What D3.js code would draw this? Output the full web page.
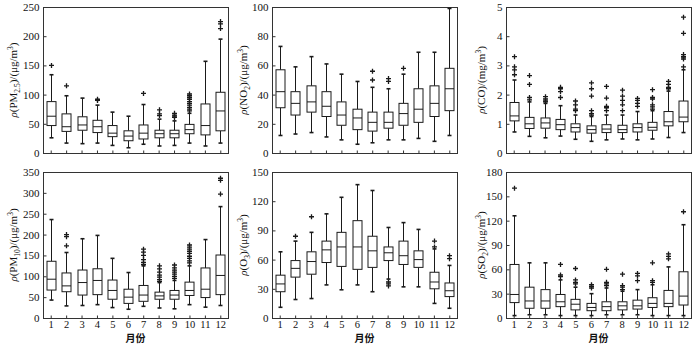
<!DOCTYPE html>
<html><head><meta charset="utf-8">
<script src="https://cdn.jsdelivr.net/npm/d3@7"></script>
<style>
html,body{margin:0;padding:0;background:#fff;}
svg{display:block;}
text{font-family:"Liberation Serif","Times New Roman",serif;fill:#111;}
</style></head><body>
<svg id="chart" width="700" height="345"></svg>
<script>
// ---- data: [low whisker, Q1, median, Q3, high whisker] per month ----
const months = [1,2,3,4,5,6,7,8,9,10,11,12];

const pm25Stats = [[26,47,63,88,134],[17,37,45,67,98],[16,39,48,62,94],[17,35,45,56,82],[13,28,34,47,70],[9,21,29,38,63],
  [15,24,34,48,83],[12,26,33,39,58],[13,26,33,39,55],[17,33,40,49,68],[12,31,47,84,157],[17,38,72,104,195]];
const pm25Out = [[150],[115],[],[90,92],[],[],[102],[64,67,74],[61,63,65,68],[72,75,78,82,85,88,92,95,98,101],[],[213,221,225]];

const no2Stats = [[12,31,42,57,73],[13,26,34,42,59],[14,28,35,46,66],[11,25,32,42,61],[9,19,26,35,54],[6,16,24,30,49],
  [7,15,21,28,45],[9,17,21,28,44],[9,19,27,34,54],[10,21,30,44,69],[8,25,34,46,69],[12,29,44,58,99]];
const no2Out = [[],[],[],[],[],[],[50,56],[49,51],[58],[],[],[]];

const coStats = [[0.72,1.1,1.27,1.73,2.5],[0.57,0.84,1.0,1.22,1.75],[0.52,0.85,1.03,1.2,1.7],[0.58,0.8,0.97,1.15,1.62],
  [0.47,0.72,0.87,1.0,1.3],[0.4,0.68,0.8,0.93,1.25],[0.45,0.7,0.82,0.97,1.3],[0.48,0.7,0.8,0.95,1.3],
  [0.45,0.72,0.87,1.0,1.42],[0.48,0.78,0.88,1.05,1.45],[0.53,0.93,1.07,1.42,2.12],[0.7,1.07,1.23,1.78,2.85]];
const coOut = [[2.68,2.85,2.95,3.3],[1.82,1.9,2.35,2.65],[1.75,1.78,1.85,1.93],[1.9,2.1,2.2,2.25],[1.45,1.5,1.65,1.78],
  [1.3,1.35,1.45,1.95,2.2,2.4],[1.45,1.55,1.6,1.88,2.28],[1.45,1.65,1.8,1.95,2.15],[1.6,1.7,1.8,1.87],
  [1.5,1.58,1.65,1.85,1.9,2.17],[2.2,2.25,2.35,2.45],[2.95,3.22,3.28,3.3,3.37,4.1,4.65]];

const pm10Stats = [[43,67,93,136,236],[29,63,77,108,157],[30,55,85,115,190],[32,56,90,118,198],[25,45,66,91,143],[21,35,50,69,109],
  [28,40,55,78,125],[24,45,53,62,85],[22,45,55,66,90],[32,54,66,86,125],[26,49,69,120,188],[30,56,102,151,267]];
const pm10Out = [[],[173,195,200],[],[],[],[],[128,133,140,150,158,165],[88,92,98,103,110,118,125],
  [95,100,105,110,115,120,127],[132,137,143,148,155,160,165,170,175],[],[297,330,335]];

const o3Stats = [[11,27,35,44,68],[19,42,51,59,79],[20,45,58,68,88],[34,57,70,79,107],[29,53,73,88,124],[34,50,73,100,137],
  [27,52,69,84,131],[40,59,67,73,93],[32,55,64,79,98],[32,52,60,69,91],[15,30,37,47,71],[10,22,28,36,54]];
const o3Out = [[],[84],[104],[],[],[],[],[33,35,37],[],[],[73,79],[61,64]];

const so2Stats = [[3,19,29,66,126],[4,12,21,38,68],[4,12,21,35,68],[3,14,20,29,47],[3,10,17,23,38],[3,9,13,18,30],
  [4,9,14,20,37],[4,10,15,20,33],[4,11,15,22,35],[3,13,18,25,41],[3,14,18,34,63],[3,16,27,57,115]];
const so2Out = [[160],[],[],[51,53,66],[42,44,47,61],[37,39,41],[40,42,44,60],[35,38,40,54],[46,52,55],[44,46,68],[73,76,79],[131]];

const yTicks = {
  pm25:[0,50,100,150,200,250], no2:[0,20,40,60,80,100], co:[0,1,2,3,4,5],
  pm10:[0,50,100,150,200,250,300,350], o3:[0,30,60,90,120,150], so2:[0,30,60,90,120,150,180]
};
const xLabel = "月份";

// ---- layout ----
const colLeft = [43,272,506], colRight = [228,457,691];
const rowTop = [7,172], rowBottom = [153,318];
const labelGap = [26,25,21];

const panels = [
  {stats:pm25Stats, out:pm25Out, ticks:yTicks.pm25, sp:"PM", sub:"2.5", unit:"μg/m", r:0, c:0},
  {stats:no2Stats, out:no2Out, ticks:yTicks.no2, sp:"NO", sub:"2", unit:"μg/m", r:0, c:1},
  {stats:coStats, out:coOut, ticks:yTicks.co, sp:"CO", sub:"", unit:"mg/m", r:0, c:2},
  {stats:pm10Stats, out:pm10Out, ticks:yTicks.pm10, sp:"PM", sub:"10", unit:"μg/m", r:1, c:0},
  {stats:o3Stats, out:o3Out, ticks:yTicks.o3, sp:"O", sub:"3", unit:"μg/m", r:1, c:1},
  {stats:so2Stats, out:so2Out, ticks:yTicks.so2, sp:"SO", sub:"2", unit:"μg/m", r:1, c:2}
];

const svg = d3.select("#chart");
const ink = "#1a1a1a";
const boxW = 9, capW = 4, plusR = 2.5;

panels.forEach(p => {
  const L = colLeft[p.c], R = colRight[p.c], T = rowTop[p.r], B = rowBottom[p.r];
  const x = d3.scaleLinear().domain([0.5, 12.5]).range([L, R]);
  const y = d3.scaleLinear().domain([p.ticks[0], p.ticks[p.ticks.length-1]]).range([B, T]);
  const g = svg.append("g");

  // frame
  g.append("rect").attr("x", L+0.5).attr("y", T+0.5).attr("width", R-L).attr("height", B-T)
    .attr("fill","none").attr("stroke","#333").attr("stroke-width",1);

  // y axis (inward ticks)
  const ya = d3.axisLeft(y).tickValues(p.ticks).tickSizeInner(-3).tickSizeOuter(0).tickPadding(4).tickFormat(d3.format("d"));
  const yg = g.append("g").attr("transform",`translate(${L+0.5},0)`).call(ya);
  yg.select(".domain").remove();
  yg.selectAll("line").attr("stroke","#333");
  yg.selectAll("text").attr("font-size",11).attr("font-family","Liberation Serif").attr("fill","#111");

  // x axis (inward ticks)
  const xa = d3.axisBottom(x).tickValues(months).tickSizeInner(-3).tickSizeOuter(0).tickPadding(2);
  const xg = g.append("g").attr("transform",`translate(0,${B+0.5})`).call(xa);
  xg.select(".domain").remove();
  xg.selectAll("line").attr("stroke","#333");
  xg.selectAll("text").attr("font-size",10.5).attr("font-family","Liberation Serif").attr("fill","#111");
  if (p.r === 0) xg.selectAll("text").remove();
  else {
    g.append("text").attr("x",(L+R)/2).attr("y",B+24).attr("text-anchor","middle")
      .attr("font-size",10).attr("font-weight","bold")
      .style("font-family",'"Noto Sans CJK SC", sans-serif').text(xLabel);
  }

  // y label
  const lx = L - labelGap[p.c], ly = (T+B)/2;
  const t = g.append("text").attr("transform",`translate(${lx},${ly}) rotate(-90)`)
    .attr("text-anchor","middle").attr("font-size",11);
  t.append("tspan").attr("font-style","italic").text("ρ");
  t.append("tspan").text("(" + p.sp);
  if (p.sub) {
    t.append("tspan").attr("font-size",7.5).attr("dy",2.5).text(p.sub);
    t.append("tspan").attr("dy",-2.5).text(")/(" + p.unit);
  } else {
    t.append("tspan").text(")/(" + p.unit);
  }
  t.append("tspan").attr("font-size",7.5).attr("dy",-4).text("3");
  t.append("tspan").attr("dy",4).text(")");

  // boxes
  const bg = g.append("g").attr("stroke",ink).attr("stroke-width",1).attr("fill","none");
  p.stats.forEach((s, i) => {
    const cx = Math.round(x(months[i])) + 0.5;
    const [lo,q1,md,q3,hi] = s;
    bg.append("line").attr("x1",cx).attr("x2",cx).attr("y1",y(q3)).attr("y2",y(hi));
    bg.append("line").attr("x1",cx).attr("x2",cx).attr("y1",y(q1)).attr("y2",y(lo));
    bg.append("line").attr("x1",cx-capW/2).attr("x2",cx+capW/2).attr("y1",y(hi)).attr("y2",y(hi)).attr("stroke-width",1.6);
    bg.append("line").attr("x1",cx-capW/2).attr("x2",cx+capW/2).attr("y1",y(lo)).attr("y2",y(lo)).attr("stroke-width",1.6);
    bg.append("rect").attr("x",cx-boxW/2).attr("y",y(q3)).attr("width",boxW).attr("height",y(q1)-y(q3)).attr("fill","#fff");
    bg.append("line").attr("x1",cx-boxW/2).attr("x2",cx+boxW/2).attr("y1",y(md)).attr("y2",y(md));
    p.out[i].forEach(v => {
      const py = y(v);
      bg.append("path").attr("d",`M${cx-plusR},${py}H${cx+plusR}M${cx},${py-plusR}V${py+plusR}`).attr("stroke-width",1.3);
    });
  });
});
</script>
</body></html>
